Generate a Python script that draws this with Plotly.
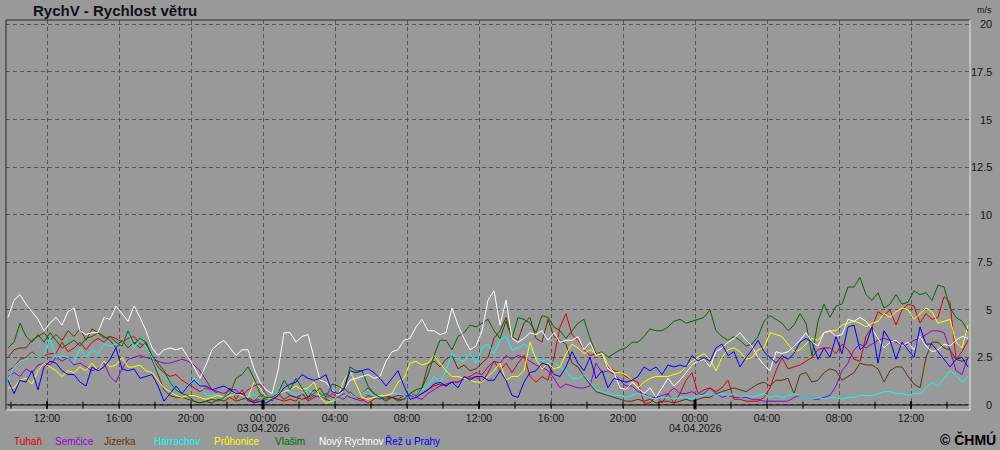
import pandas as pd
import plotly.graph_objects as go

# ---------------- data ----------------
start_time = "2026-04-02 09:50"
step = "20min"

tuhan = [1.8, 2.0, 2.4, 2.5, 2.8, 2.5, 2.6, 2.7, 2.7, 3.3,
         2.8, 3.0, 3.3, 2.9, 3.3, 3.5, 3.3, 3.6, 3.5, 3.3,
         3.5, 3.6, 3.2, 3.2, 2.5, 2.0, 1.7, 1.5, 1.6, 1.3,
         1.1, 0.9, 0.7, 0.9, 0.8, 0.6, 0.4, 0.9, 0.3, 0.8,
         0.2, 0.2, 0.3, 0.5, 0.4, 0.3, 0.2, 0.3, 0.2, 0.6,
         0.2, 0.4, 0.5, 0.3, 0.6, 0.4, 0.3, 0.7, 0.4, 0.3,
         0.1, 0.3, 0.5, 0.4, 0.4, 0.3, 0.3, 0.6, 0.5, 0.6,
         0.8, 1.0, 1.1, 1.0, 1.2, 1.2, 1.4, 1.5, 1.7, 1.6,
         2.0, 2.3, 1.8, 2.2, 1.7, 2.2, 2.6, 1.5, 1.2, 1.5,
         1.3, 2.5, 4.1, 4.8, 3.7, 3.4, 2.9, 2.6, 2.7, 2.6,
         2.0, 1.8, 1.7, 1.5, 1.3, 1.2, 0.1, 0.1, 0.5, 0.1,
         0.6, 0.1, 0.6, 1.3, 1.7, 0.6, 0.8, 0.9, 0.7, 0.9,
         1.3, 0.3, 0.3, 0.2, 0.2, 0.2, 0.4, 0.9, 1.8, 2.5,
         1.9, 2.0, 2.1, 2.3, 2.5, 2.9, 3.0, 3.0, 2.7, 3.2,
         2.9, 2.4, 2.3, 3.6, 4.1, 4.9, 4.7, 5.0, 4.2, 5.0,
         5.3, 5.2, 4.3, 4.8, 4.5, 4.6, 5.7, 5.4, 2.4, 2.8,
         3.4]

semcice = [1.5, 1.7, 1.5, 1.9, 1.7, 2.1, 2.2, 2.1, 2.5, 2.3,
           2.5, 2.1, 2.2, 2.0, 1.8, 1.9, 2.2, 1.5, 1.2, 1.9,
           2.4, 2.5, 2.6, 2.5, 2.4, 2.3, 2.2, 2.2, 2.3, 2.4,
           2.3, 2.1, 1.8, 1.3, 0.8, 0.7, 0.6, 0.8, 0.8, 0.5,
           0.8, 1.0, 1.1, 0.6, 0.2, 0.5, 0.8, 0.5, 0.4, 0.6,
           0.3, 0.5, 0.4, 0.6, 0.4, 0.4, 0.6, 0.4, 0.3, 0.2,
           0.5, 0.4, 0.3, 0.5, 0.4, 0.5, 0.5, 0.5, 0.4, 0.3,
           0.6, 0.8, 1.0, 1.1, 1.2, 1.2, 1.4, 1.4, 1.5, 1.2,
           1.7, 2.3, 2.2, 2.6, 2.4, 2.6, 2.5, 2.3, 2.1, 2.0,
           1.8, 1.4, 0.9, 1.1, 1.0, 0.9, 0.9, 1.0, 2.2, 1.7,
           1.8, 1.6, 1.3, 1.0, 1.0, 0.7, 0.6, 0.4, 0.4, 0.5,
           0.6, 0.9, 0.6, 0.6, 0.7, 0.5, 0.6, 0.9, 0.6, 0.4,
           0.5, 0.4, 0.4, 0.4, 0.3, 0.3, 0.2, 0.2, 0.2, 0.2,
           0.2, 0.4, 0.5, 0.4, 0.3, 0.3, 0.4, 0.5, 1.0, 1.8,
           2.2, 2.9, 3.2, 3.0, 3.2, 3.4, 3.5, 3.4, 3.3, 3.1,
           3.2, 3.4, 3.5, 3.7, 3.9, 3.9, 3.8, 2.9, 1.8, 1.6,
           2.5]

jizerka = [2.5, 2.9, 3.0, 3.0, 3.4, 3.6, 3.8, 3.4, 3.7, 3.4,
           3.9, 3.6, 4.0, 3.4, 4.0, 3.8, 3.6, 3.4, 3.0, 3.4,
           3.0, 3.3, 3.0, 3.3, 2.4, 1.6, 0.8, 0.5, 0.4, 0.4,
           0.3, 0.2, 0.1, 0.2, 0.1, 0.3, 0.2, 0.4, 0.2, 0.3,
           0.4, 0.2, 0.5, 0.3, 0.4, 0.6, 0.3, 0.5, 0.4, 0.3,
           0.4, 0.8, 0.6, 0.3, 0.2, 0.5, 0.9, 0.6, 0.4, 0.6,
           0.9, 0.6, 0.4, 0.2, 0.4, 0.3, 0.5, 0.6, 0.4, 0.9,
           2.1, 2.3, 2.0, 2.4, 2.6, 1.9, 2.1, 1.8, 1.9, 2.2,
           2.5, 3.5, 3.9, 4.6, 3.6, 3.4, 4.3, 4.6, 3.5, 3.3,
           4.5, 3.6, 3.4, 3.2, 2.2, 2.0, 1.5, 1.1, 0.7, 0.6,
           0.5, 0.4, 0.3, 0.2, 0.2, 0.3, 0.2, 0.3, 0.1, 0.2,
           0.2, 0.1, 0.2, 0.3, 0.2, 0.3, 0.4, 0.4, 0.6, 0.7,
           0.8, 0.9, 0.8, 0.7, 0.9, 1.1, 1.2, 1.0, 1.3, 1.3,
           1.4, 0.6, 1.6, 1.7, 1.2, 1.3, 1.7, 1.9, 1.8, 1.3,
           1.5, 1.7, 2.2, 2.1, 2.1, 1.9, 1.2, 1.8, 2.0, 2.0,
           1.5, 1.1, 0.9, 2.5, 3.3, 3.3, 3.0, 2.9, 2.4, 2.3,
           2.4]

harrachov = [1.3, 2.0, 2.3, 2.4, 2.7, 2.5, 2.6, 3.5, 2.5, 2.6,
             2.5, 2.2, 3.0, 2.5, 2.9, 2.7, 3.2, 3.1, 3.2, 3.2,
             3.9, 3.0, 3.4, 3.1, 2.5, 1.8, 1.5, 1.2, 0.9, 0.6,
             1.0, 1.4, 1.1, 0.5, 0.5, 0.6, 0.4, 0.7, 0.6, 0.5,
             0.4, 0.6, 0.3, 0.5, 0.4, 0.7, 0.8, 0.7, 0.5, 0.6,
             0.8, 0.6, 0.5, 0.4, 0.2, 0.3, 0.5, 0.6, 0.4, 0.6,
             0.8, 0.4, 0.4, 0.5, 0.6, 0.6, 0.5, 0.6, 0.4, 0.8,
             1.0, 1.5, 1.2, 1.8, 2.7, 2.4, 2.3, 2.7, 2.2, 3.0,
             3.2, 2.7, 3.4, 3.6, 2.9, 3.0, 3.2, 3.0, 2.5, 2.3,
             2.4, 2.2, 2.0, 1.8, 1.4, 1.4, 1.6, 1.2, 0.8, 0.7,
             0.6, 0.5, 0.5, 0.4, 0.5, 0.6, 0.5, 0.4, 0.3, 0.4,
             0.4, 0.3, 0.4, 0.4, 0.3, 0.5, 0.5, 0.6, 0.5, 0.6,
             0.5, 0.6, 0.4, 0.5, 0.4, 0.5, 0.6, 0.4, 0.5, 0.4,
             0.5, 0.6, 0.5, 0.4, 0.3, 0.4, 0.3, 0.4, 0.4, 0.3,
             0.4, 0.4, 0.5, 0.5, 0.5, 0.6, 0.7, 0.7, 0.6, 0.6,
             0.5, 0.6, 0.6, 0.9, 1.2, 1.0, 1.4, 1.8, 1.6, 1.2,
             1.5]

pruhonice = [0.9, 0.9, 1.3, 1.4, 1.1, 1.8, 2.2, 2.0, 1.8, 1.5,
             1.8, 1.7, 2.0, 1.8, 2.2, 1.8, 2.3, 2.0, 2.1, 2.5,
             2.0, 2.0, 2.1, 1.8, 1.7, 1.3, 0.9, 0.7, 0.5, 0.4,
             0.5, 0.5, 0.4, 0.3, 0.4, 0.5, 0.4, 0.5, 0.6, 0.5,
             0.4, 1.2, 0.9, 0.4, 0.3, 0.6, 0.7, 0.8, 1.0, 0.8,
             0.9, 1.2, 0.4, 0.1, 0.2, 0.5, 1.3, 1.8, 1.1, 0.4,
             0.3, 0.4, 0.5, 0.5, 0.6, 1.2, 1.4, 2.2, 2.3, 2.1,
             2.2, 2.6, 2.2, 1.8, 1.5, 1.5, 1.4, 1.3, 1.2, 1.2,
             1.5, 1.8, 2.2, 1.3, 1.5, 1.5, 1.8, 3.3, 2.4, 1.9,
             2.2, 1.9, 2.0, 2.7, 3.2, 3.0, 2.7, 2.9, 2.7, 2.8,
             2.1, 1.7, 1.7, 1.6, 1.3, 0.9, 1.2, 1.4, 1.5, 1.5,
             1.5, 1.6, 1.7, 2.0, 2.3, 2.5, 2.7, 2.4, 1.8, 2.5,
             2.9, 3.0, 2.8, 2.4, 2.5, 2.9, 3.0, 3.8, 3.7, 3.6,
             3.2, 2.8, 2.9, 3.2, 3.5, 3.4, 3.8, 3.9, 3.9, 4.2,
             4.3, 4.4, 4.3, 4.1, 4.3, 4.4, 4.8, 4.6, 4.9, 5.1,
             5.0, 4.5, 4.8, 5.1, 4.9, 4.3, 4.4, 4.5, 3.3, 3.0,
             4.2]

vlasim = [3.0, 3.3, 4.3, 3.6, 3.3, 3.7, 3.3, 3.8, 3.4, 3.0,
          3.2, 3.4, 3.1, 3.5, 3.6, 3.8, 3.5, 3.6, 3.3, 3.1,
          3.9, 3.2, 3.5, 3.3, 2.6, 2.2, 1.8, 1.2, 0.8, 0.6,
          0.5, 0.2, 0.1, 0.2, 0.3, 0.2, 0.4, 0.6, 1.4, 1.6,
          2.0, 1.4, 0.6, 0.4, 0.4, 0.6, 1.3, 0.8, 1.4, 0.9,
          0.4, 0.6, 0.9, 0.4, 1.1, 1.0, 0.8, 2.0, 1.8, 1.8,
          1.0, 0.6, 0.4, 0.3, 0.4, 0.2, 0.3, 0.6, 0.8, 0.9,
          1.6, 2.6, 3.4, 3.4, 2.9, 3.6, 3.8, 4.2, 4.1, 4.3,
          4.5, 3.9, 3.5, 4.4, 3.5, 4.6, 4.5, 4.3, 3.8, 4.7,
          4.6, 4.1, 3.9, 3.5, 3.9, 4.3, 4.5, 3.5, 2.7, 2.8,
          2.5, 2.7, 2.9, 3.0, 3.3, 3.3, 3.6, 4.0, 3.9, 3.9,
          4.1, 4.4, 4.5, 4.3, 4.4, 4.5, 4.6, 5.0, 3.9, 3.6,
          3.4, 3.6, 3.4, 3.1, 3.2, 3.6, 4.4, 4.7, 4.5, 4.3,
          3.9, 4.2, 4.8, 4.3, 2.6, 4.4, 5.3, 4.6, 5.2, 5.3,
          6.2, 6.2, 6.7, 5.8, 5.5, 5.9, 5.1, 5.3, 5.8, 5.3,
          5.4, 6.0, 5.8, 5.9, 5.5, 6.3, 6.2, 5.1, 4.6, 4.4,
          3.9]

novy_rychnov = [4.6, 5.5, 5.8, 5.3, 4.9, 4.5, 3.9, 4.3, 4.6, 4.2,
                4.9, 5.1, 3.9, 3.7, 3.8, 3.8, 4.6, 4.5, 5.2, 4.8,
                4.4, 5.2, 4.6, 3.9, 3.0, 2.6, 2.9, 3.0, 2.9, 3.0,
                2.5, 2.0, 1.4, 2.1, 2.9, 3.2, 3.4, 3.0, 2.6, 2.9,
                2.9, 1.9, 1.2, 0.8, 0.6, 1.8, 3.8, 3.8, 3.3, 3.6,
                3.7, 2.5, 1.3, 1.2, 0.8, 0.5, 0.8, 1.3, 1.4, 1.5,
                1.6, 1.4, 1.5, 2.3, 2.8, 2.9, 3.4, 3.5, 4.1, 4.5,
                3.9, 3.9, 3.7, 3.8, 5.1, 4.2, 3.5, 2.9, 3.1, 3.9,
                5.5, 6.0, 4.2, 5.5, 3.5, 3.3, 3.5, 3.8, 3.7, 3.9,
                3.4, 3.8, 3.3, 3.4, 3.4, 3.6, 2.9, 3.3, 2.6, 2.7,
                1.9, 1.7, 0.9, 0.8, 1.2, 0.9, 0.6, 0.9, 0.4, 0.9,
                1.4, 1.0, 1.3, 1.7, 2.1, 2.3, 2.4, 2.0, 2.8, 3.0,
                3.3, 3.5, 3.8, 3.4, 3.1, 2.5, 2.1, 1.8, 2.8, 2.7,
                2.8, 3.1, 3.4, 3.8, 3.3, 3.1, 3.8, 3.9, 3.6, 3.7,
                4.5, 4.4, 4.6, 4.4, 4.0, 3.5, 3.0, 3.3, 3.4, 3.1,
                3.3, 2.9, 3.6, 3.1, 2.8, 2.9, 3.2, 3.1, 3.4, 3.6,
                3.5]

rez_u_prahy = [1.3, 0.6, 1.3, 1.2, 1.8, 0.8, 2.0, 2.3, 2.2, 1.8,
               1.6, 1.6, 1.2, 1.0, 2.0, 1.8, 2.0, 2.4, 3.0, 1.9,
               1.8, 1.9, 1.4, 1.5, 1.6, 1.0, 0.2, 0.6, 1.0, 0.6,
               1.0, 1.3, 1.0, 1.0, 0.8, 0.9, 1.0, 0.8, 0.6, 0.6,
               0.3, 0.1, 0.2, 0.1, 0.3, 0.5, 0.9, 1.1, 1.2, 1.6,
               1.4, 1.3, 1.4, 1.6, 0.7, 0.6, 0.8, 1.8, 1.7, 1.8,
               1.9, 1.7, 1.4, 1.0, 1.4, 1.8, 1.0, 0.3, 0.4, 0.6,
               0.8, 1.1, 1.2, 1.0, 1.2, 0.9, 1.5, 1.3, 1.5, 1.5,
               1.3, 1.3, 1.8, 1.3, 0.5, 0.4, 1.2, 1.7, 1.8, 2.2,
               2.1, 1.6, 1.5, 2.0, 2.8, 2.2, 1.8, 2.5, 1.4, 1.8,
               0.9, 1.4, 1.3, 1.2, 1.3, 1.5, 2.0, 1.8, 2.0, 1.6,
               2.1, 2.0, 2.1, 2.0, 2.6, 2.3, 2.5, 2.3, 3.0, 3.2,
               2.6, 2.8, 2.0, 2.5, 2.9, 3.4, 2.8, 2.5, 2.2, 2.6,
               2.4, 2.7, 3.3, 3.5, 3.3, 2.4, 3.0, 2.5, 3.6, 2.7,
               4.1, 4.2, 2.9, 3.2, 4.1, 2.2, 3.9, 3.4, 2.4, 3.3,
               2.9, 2.5, 4.1, 3.2, 3.2, 2.8, 2.4, 2.0, 2.4, 2.5,
               2.0]

station_names = ["Tuhaň", "Semčice", "Jizerka", "Harrachov", "Průhonice",
                 "Vlašim", "Nový Rychnov", "Řež u Prahy"]
station_values = [tuhan, semcice, jizerka, harrachov, pruhonice,
                  vlasim, novy_rychnov, rez_u_prahy]
line_colors = ["#e00000", "#9900cc", "#663300", "#00ffff", "#ffff00",
               "#006a00", "#ffffff", "#0000ff"]
legend_x_px = [12, 53, 102, 152, 212, 273, 317, 383]

tick_times = ["2026-04-02 12:00", "2026-04-02 16:00", "2026-04-02 20:00",
              "2026-04-03 00:00", "2026-04-03 04:00", "2026-04-03 08:00",
              "2026-04-03 12:00", "2026-04-03 16:00", "2026-04-03 20:00",
              "2026-04-04 00:00", "2026-04-04 04:00", "2026-04-04 08:00",
              "2026-04-04 12:00"]
tick_labels = ["12:00", "16:00", "20:00", "00:00", "04:00", "08:00",
               "12:00", "16:00", "20:00", "00:00", "04:00", "08:00",
               "12:00"]
date_times = ["2026-04-03 00:00", "2026-04-04 00:00"]
date_labels = ["03.04.2026", "04.04.2026"]
y_ticks = [0, 2.5, 5, 7.5, 10, 12.5, 15, 17.5, 20]
y_tick_labels = ["0", "2.5", "5", "7.5", "10", "12.5", "15", "17.5", "20"]

# ---------------- figure ----------------
times = pd.date_range(start_time, periods=len(tuhan), freq=step)

W, H = 1000, 450
ML, MR, MT, MB = 6, 30, 20, 40
PW, PH = W - ML - MR, H - MT - MB

def px_x(px):
    return (px - ML) / PW

def px_y(py):
    return (H - MB - py) / PH

BG = "#999999"
FONT = "Liberation Sans, Arial, sans-serif"
TXT = "#161616"

fig = go.Figure()
for name, vals, col in zip(station_names, station_values, line_colors):
    fig.add_trace(go.Scatter(x=times, y=vals, mode="lines", name=name,
                             line=dict(color=col, width=1),
                             showlegend=False, hoverinfo="skip"))

shapes = []
# axis line at 0
shapes.append(dict(type="line", xref="paper", yref="y", x0=0.002, x1=0.998, y0=0, y1=0,
                   line=dict(color="#000000", width=1)))
# small ticks every 2 hours
tick2 = pd.date_range("2026-04-02 10:00", "2026-04-04 14:00", freq="2h")
for t in tick2:
    if t.hour == 0:
        w, a, b = 3, -0.26, 0.28
    elif t.hour == 12:
        w, a, b = 2, -0.2, 0.2
    else:
        w, a, b = 1, -0.18, 0.18
    shapes.append(dict(type="line", xref="x", yref="y", x0=t, x1=t, y0=a, y1=b,
                       line=dict(color="#000000", width=w)))
# frame
shapes += [
    dict(type="line", xref="paper", yref="paper", x0=0, x1=1, y0=1, y1=1,
         line=dict(color="#262626", width=1)),
    dict(type="line", xref="paper", yref="paper", x0=0, x1=0, y0=0, y1=1,
         line=dict(color="#262626", width=1)),
    dict(type="line", xref="paper", yref="paper", x0=1, x1=1, y0=0, y1=1,
         line=dict(color="#e4e4e4", width=1)),
    dict(type="line", xref="paper", yref="paper", x0=0, x1=1, y0=0, y1=0,
         line=dict(color="#e4e4e4", width=1)),
]

ann = []
for v, lab in zip(y_ticks, y_tick_labels):
    ann.append(dict(x=px_x(994), y=v, xref="paper", yref="y", text=lab,
                    showarrow=False, xanchor="right", yanchor="middle",
                    font=dict(family=FONT, size=11, color=TXT)))
ann.append(dict(x=px_x(994), y=px_y(10), xref="paper", yref="paper", text="m/s",
                showarrow=False, xanchor="right", yanchor="middle",
                font=dict(family=FONT, size=9, color=TXT)))
ann.append(dict(x=px_x(31), y=px_y(10), xref="paper", yref="paper",
                text="<b>RychV - Rychlost větru</b>", showarrow=False,
                xanchor="left", yanchor="middle",
                font=dict(family=FONT, size=15, color="#101018")))
for dt, dl in zip(date_times, date_labels):
    ann.append(dict(x=pd.Timestamp(dt), y=px_y(428), xref="x", yref="paper", text=dl,
                    showarrow=False, xanchor="center", yanchor="middle",
                    font=dict(family=FONT, size=10.5, color=TXT)))
for name, col, lx in zip(station_names, line_colors, legend_x_px):
    ann.append(dict(x=px_x(lx), y=px_y(441), xref="paper", yref="paper", text=name,
                    showarrow=False, xanchor="left", yanchor="middle",
                    font=dict(family=FONT, size=10, color=col)))
ann.append(dict(x=px_x(998), y=px_y(439), xref="paper", yref="paper",
                text="<b>© ČHMÚ</b>", showarrow=False, xanchor="right", yanchor="middle",
                font=dict(family=FONT, size=14, color="#000000")))

fig.update_layout(
    width=W, height=H,
    margin=dict(l=ML, r=MR, t=MT, b=MB, pad=0),
    paper_bgcolor=BG, plot_bgcolor=BG,
    showlegend=False,
    xaxis=dict(type="date",
               range=["2026-04-02 09:43:20", "2026-04-04 15:16:40"],
               tickvals=pd.to_datetime(tick_times), ticktext=tick_labels,
               showgrid=True, gridcolor="#555555", gridwidth=1, griddash="4px,3px",
               zeroline=False, showline=False, ticks="", fixedrange=True,
               tickfont=dict(family=FONT, size=10.5, color=TXT)),
    yaxis=dict(range=[-0.263, 20.23], tickvals=y_ticks, showticklabels=False,
               showgrid=True, gridcolor="#555555", gridwidth=1, griddash="4px,3px",
               zeroline=False, showline=False, ticks="", fixedrange=True),
    shapes=shapes,
    annotations=ann,
)

fig.write_html(
    "out.html",
    config={"displayModeBar": False},
    post_script="document.body.style.margin='0';document.body.style.padding='0';"
                "document.body.style.background='#999999';"
                "document.documentElement.style.overflow='hidden';",
)
